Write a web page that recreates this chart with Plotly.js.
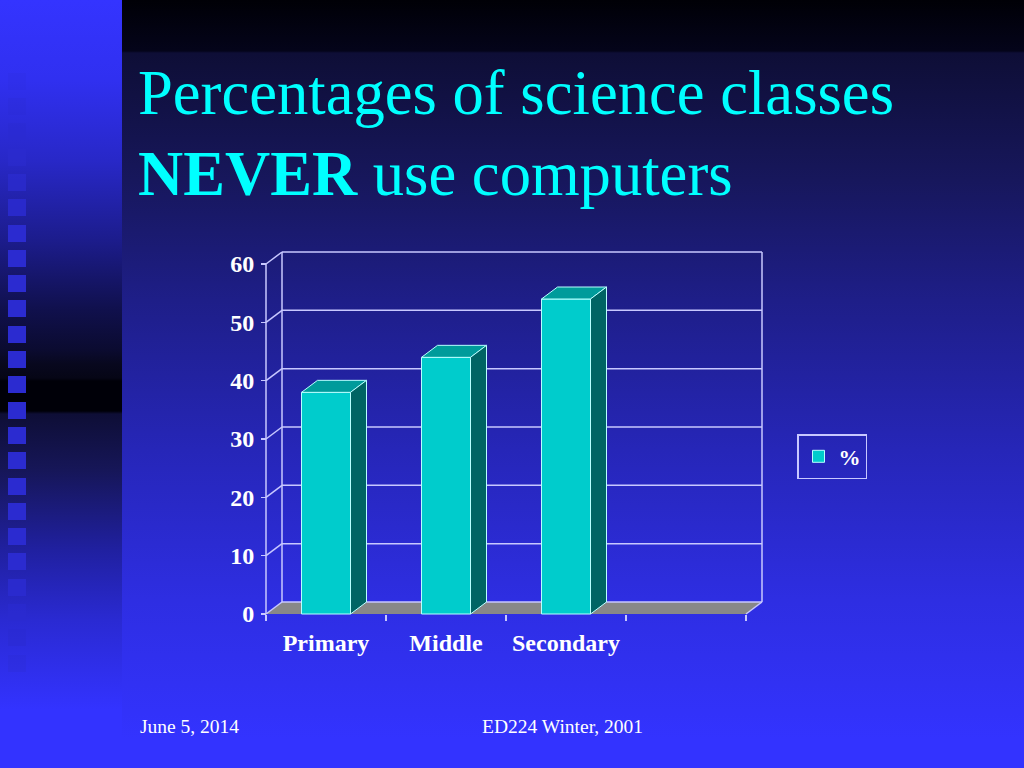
<!DOCTYPE html>
<html>
<head>
<meta charset="utf-8">
<script src="https://cdn.plot.ly/plotly-3.0.1.min.js"></script>
<style>
  html, body { margin: 0; padding: 0; width: 1024px; height: 768px; overflow: hidden; background: #3333ff; }
  #bgMain { position: absolute; left: 0; top: 0; width: 1024px; height: 768px;
    background: linear-gradient(to bottom, #000006 0px, #04041a 51px, #0e0e36 53px, #17175c 180px, #1e1e88 300px, #2626b8 450px, #2e2ee2 600px, #3333ff 740px); }
  #bgStrip { position: absolute; left: 0; top: 0; width: 122px; height: 768px;
    background: linear-gradient(to bottom, #3434ff 0px, #3030f0 80px, #2828c8 160px, #1c1c8c 240px, #10104c 310px, #0b0b30 350px, #08081e 364px, #060616 378px, #000008 381px, #000008 411px, #0e0e36 414px, #161658 470px, #2020a0 550px, #2a2ad2 620px, #3333ff 710px); }
  .sq { position: absolute; left: 8px; width: 18px; height: 17px; background: #2b2bd0; }
  #chart { position: absolute; left: 0; top: 0; width: 1024px; height: 768px; }
</style>
</head>
<body>
<div id="bgMain"></div>
<div id="bgStrip"></div>
<div id="chart"></div>
<script>
// ---- data ----
const categories = ['Primary', 'Middle', 'Secondary'];
const values = [38, 44, 54];
const yTickVals = [0, 10, 20, 30, 40, 50, 60];
const yTickText = ['0', '10', '20', '30', '40', '50', '60'];
const seriesName = '%';
const slotCount = 4;          // category slots along the floor (last one empty)
const titleLine1 = 'Percentages of science classes';
const titleLine2Bold = 'NEVER';
const titleLine2Rest = ' use computers';
const footerLeft = 'June 5, 2014';
const footerCenter = 'ED224 Winter, 2001';

// ---- decorative squares in left strip ----
(function () {
  const strip = document.getElementById('bgStrip');
  for (let k = -11; k <= 12; k++) {
    const top = 351 + k * 25.3;
    if (top < 60 || top > 690) continue;
    const d = document.createElement('div');
    d.className = 'sq';
    d.style.top = top.toFixed(1) + 'px';
    let op = 1;
    if (top < 220) op = Math.max(0.12, (top - 60) / 160);
    if (top > 560) op = Math.max(0.12, (690 - top) / 130);
    d.style.opacity = op.toFixed(2);
    strip.appendChild(d);
  }
})();

// ---- geometry (pixels -> axis units) ----
const plotL = 266, plotR = 762, valTopPx = 264, zeroPx = 614;   // front plane
const depthPx = { x: 16, y: 12 };
const pad = 3;
const yMaxFront = yTickVals[yTickVals.length - 1];
const pxPerX = (plotR - depthPx.x - plotL) / slotCount;
const pxPerY = (zeroPx - valTopPx) / yMaxFront;
const dX = depthPx.x / pxPerX;
const dY = depthPx.y / pxPerY;
const barW = 49 / pxPerX;

const xRange = [-pad / pxPerX, slotCount + dX + pad / pxPerX];
const yRange = [-pad / pxPerY, yMaxFront + dY + pad / pxPerY];
const mL = plotL - pad, mR = 1024 - (plotR + pad);
const mT = (valTopPx - depthPx.y) - pad;
const mB = 768 - (zeroPx + pad);
const plotW = 1024 - mL - mR, plotH = 768 - mT - mB;
const pxToPaperX = px => (px - mL) / plotW;
const pxToPaperY = py => (768 - mB - py) / plotH;

const centers = categories.map((c, i) => i + 0.5);

// ---- 3D faces ----
const topX = [], topY = [], sideX = [], sideY = [];
centers.forEach((c, i) => {
  const v = values[i], l = c - barW / 2, r = c + barW / 2;
  topX.push(l, r, r + dX, l + dX, l, null);
  topY.push(v, v, v + dY, v + dY, v, null);
  sideX.push(r, r + dX, r + dX, r, r, null);
  sideY.push(0, dY, v + dY, v, 0, null);
});
const edge = '#b8ffff';

const traces = [
  { type: 'bar', x: centers, y: values, width: barW, name: seriesName,
    marker: { color: '#00cccc', line: { color: edge, width: 1 } },
    hoverinfo: 'skip', showlegend: true },
  { type: 'scatter', mode: 'lines', x: topX, y: topY, fill: 'toself',
    fillcolor: '#009b9b', line: { color: edge, width: 1 }, showlegend: false, hoverinfo: 'skip' },
  { type: 'scatter', mode: 'lines', x: sideX, y: sideY, fill: 'toself',
    fillcolor: '#006464', line: { color: edge, width: 1 }, showlegend: false, hoverinfo: 'skip' }
];

// ---- walls, grid and floor as shapes below the traces ----
const gridColor = '#c8c8ff';
const shapes = [];
shapes.push({ type: 'path', layer: 'below', xref: 'x', yref: 'y',
  path: `M0,0 L${slotCount},0 L${slotCount + dX},${dY} L${dX},${dY} Z`,
  fillcolor: '#888888', line: { width: 0 } });
const seg = (x0, y0, x1, y1) => shapes.push({ type: 'line', layer: 'below', xref: 'x', yref: 'y',
  x0, y0, x1, y1, line: { color: gridColor, width: 1.5 } });
yTickVals.forEach(v => {
  seg(dX, v + dY, slotCount + dX, v + dY);
  seg(0, v, dX, v + dY);
});
seg(0, 0, 0, yMaxFront);
seg(dX, dY, dX, yMaxFront + dY);
seg(slotCount + dX, dY, slotCount + dX, yMaxFront + dY);
seg(slotCount, 0, slotCount + dX, dY);

const serif = 'Liberation Serif, Times New Roman, serif';
const slotEdges = Array.from({ length: slotCount + 1 }, (_, i) => i);

const layout = {
  width: 1024, height: 768,
  margin: { l: mL, r: mR, t: mT, b: mB, pad: 0 },
  paper_bgcolor: 'rgba(0,0,0,0)', plot_bgcolor: 'rgba(0,0,0,0)',
  showlegend: true,
  title: {
    text: titleLine1 + '<br><b>' + titleLine2Bold + '</b>' + titleLine2Rest,
    font: { family: serif, size: 62.6, color: '#00ffff' },
    xref: 'container', x: 138 / 1024, xanchor: 'left',
    yref: 'container', y: 1 - 114 / 768, yanchor: 'top'
  },
  xaxis: {
    range: xRange, anchor: 'free', position: pad / plotH,
    tickvals: centers, ticktext: categories, ticks: '',
    tickfont: { family: serif, size: 24, color: '#ffffff', weight: 'bold' },
    ticklabelstandoff: 12,
    minor: { tickvals: slotEdges, ticks: 'outside', ticklen: 6, tickwidth: 1.5, tickcolor: gridColor },
    showgrid: false, zeroline: false, showline: false, fixedrange: true
  },
  yaxis: {
    range: yRange, anchor: 'free', position: pad / plotW,
    tickvals: yTickVals, ticktext: yTickText, ticks: 'outside', ticklen: 5, tickwidth: 1.5, tickcolor: gridColor,
    tickfont: { family: serif, size: 24, color: '#ffffff', weight: 'bold' },
    ticklabelstandoff: 2,
    showgrid: false, zeroline: false, showline: false, fixedrange: true
  },
  legend: {
    x: pxToPaperX(797), y: pxToPaperY(434), xanchor: 'left', yanchor: 'top',
    bgcolor: 'rgba(0,0,0,0)', bordercolor: gridColor, borderwidth: 1.5,
    font: { family: serif, size: 22, color: '#ffffff', weight: 'bold' },
    itemwidth: 30
  },
  shapes: shapes,
  annotations: [
    { text: footerLeft, xref: 'paper', yref: 'paper', x: pxToPaperX(138), y: pxToPaperY(726),
      xanchor: 'left', yanchor: 'middle', showarrow: false,
      font: { family: serif, size: 19.5, color: '#ffffff' } },
    { text: footerCenter, xref: 'paper', yref: 'paper', x: pxToPaperX(562), y: pxToPaperY(726),
      xanchor: 'center', yanchor: 'middle', showarrow: false,
      font: { family: serif, size: 19.5, color: '#ffffff' } }
  ]
};

Plotly.newPlot('chart', traces, layout, { staticPlot: true, displayModeBar: false });
</script>
</body>
</html>
